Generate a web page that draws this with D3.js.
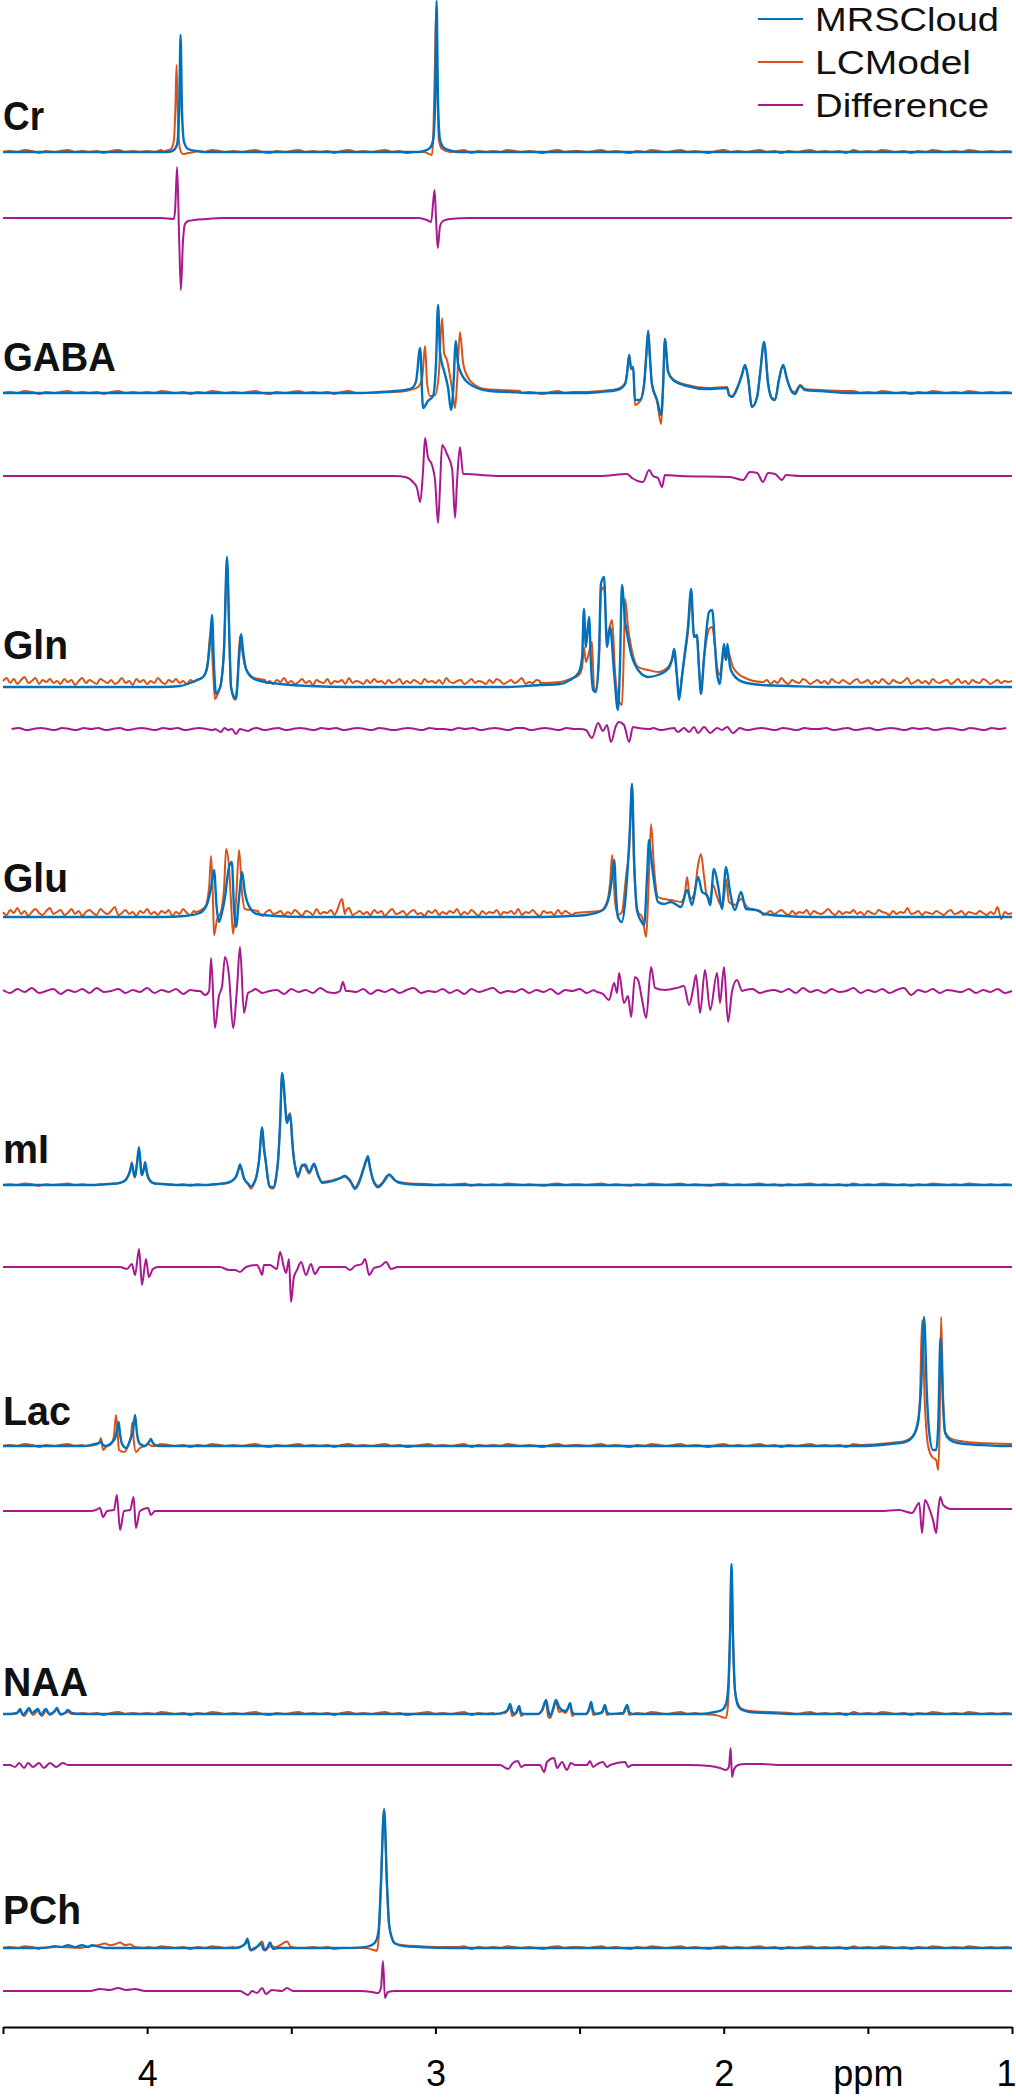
<!DOCTYPE html>
<html>
<head>
<meta charset="utf-8">
<script src="https://cdn.jsdelivr.net/npm/d3@7"></script>
<style>
  body { margin: 0; background: #fff; }
  svg { display: block; font-family: Helvetica, Arial, "Liberation Sans", sans-serif; }
</style>
</head>
<body>
<script>
// ---- data ----
const metabolites = ["Cr", "GABA", "Gln", "Glu", "mI", "Lac", "NAA", "PCh"];
const seriesNames = ["MRSCloud", "LCModel", "Difference"];
const tickPpm = [4.5, 4, 3.5, 3, 2.5, 2, 1.5, 1];
const tickText = ["", "4", "", "3", "", "2", "ppm", "1"];

// spectra: groups of [ppm, intensity (a.u.)] vertices, flat baseline between groups
const crMrs = [
  [[3.928,0],[3.907,2],[3.896,8],[3.889,40],[3.884,117],[3.879,40],[3.872,10],[3.858,3],[3.830,1],[3.800,0]],
  [[3.060,0],[3.040,1],[3.019,4],[3.008,12],[3.001,50],[2.996,151],[2.991,50],[2.984,12],[2.970,4],[2.942,1],[2.920,0]]
];
const crLcm = [
  [[3.945,0],[3.938,1],[3.917,3],[3.907,12],[3.902,45],[3.898,87],[3.893,30],[3.886,3],[3.876,-2],[3.858,-1],[3.837,0]],
  [[3.060,0],[3.040,0],[3.022,-2],[3.012,-3],[3.007,20],[3.001,100],[2.998,140],[2.993,60],[2.988,12],[2.977,3],[2.949,0]]
];
const crDiff = [
  [[3.950,0],[3.907,-1],[3.903,8],[3.896,51],[3.889,-20],[3.883,-72],[3.876,-25],[3.869,-6],[3.858,-3],[3.837,-2],[3.790,-1],[3.740,0]],
  [[3.060,0],[3.030,-2],[3.015,-4],[3.003,28],[2.998,0],[2.992,-30],[2.984,-8],[2.974,-3],[2.950,-1],[2.880,0]]
];

const gabaMrs = [
  [[3.260,0],[3.192,1],[3.140,2],[3.105,3],[3.081,5],[3.067,12],[3.053,45],[3.043,-15],[3.026,-8],[3.008,-3],[2.998,30],[2.991,88],[2.984,40],[2.970,22],[2.956,5],[2.946,-17],[2.939,0],[2.929,52],[2.922,30],[2.908,18],[2.890,11],[2.870,7],[2.856,5],[2.811,2],[2.741,1],[2.680,0]],
  [[2.480,0],[2.429,1],[2.370,3],[2.342,9],[2.335,20],[2.328,38],[2.321,24],[2.314,26],[2.308,-7],[2.290,-7],[2.276,9],[2.269,36],[2.262,62],[2.256,36],[2.249,9],[2.231,-7],[2.217,-22],[2.210,10],[2.204,54],[2.193,21],[2.176,13],[2.127,7],[2.058,4],[1.988,5],[1.982,-2],[1.971,-4],[1.954,4],[1.937,18],[1.926,28],[1.916,16],[1.902,-14],[1.884,-4],[1.874,19],[1.860,51],[1.846,9],[1.832,-6],[1.822,-7],[1.808,14],[1.794,28],[1.780,13],[1.763,1],[1.753,-1],[1.735,7],[1.718,3],[1.666,2],[1.562,0]]
];
const gabaLcm = [
  [[3.260,0],[3.140,1],[3.088,3],[3.060,6],[3.046,15],[3.036,47],[3.029,10],[3.019,-3],[3.001,-2],[2.988,20],[2.977,75],[2.970,40],[2.960,33],[2.950,18],[2.939,-2],[2.932,-15],[2.925,10],[2.915,61],[2.904,30],[2.890,17],[2.863,8],[2.828,4],[2.776,3],[2.707,2]],
  [[2.480,1],[2.429,2],[2.370,4],[2.342,10],[2.335,21],[2.328,38],[2.321,24],[2.314,26],[2.308,-12],[2.290,-8],[2.276,9],[2.269,36],[2.262,62],[2.256,36],[2.249,9],[2.231,-9],[2.217,-31],[2.210,8],[2.204,54],[2.193,22],[2.176,14],[2.127,8],[2.058,5],[1.988,6],[1.982,-1],[1.971,-3],[1.954,5],[1.937,18],[1.926,28],[1.916,16],[1.902,-14],[1.884,-3],[1.874,19],[1.860,50],[1.846,10],[1.832,-5],[1.822,-6],[1.808,14],[1.794,28],[1.780,14],[1.763,2],[1.753,1],[1.735,8],[1.718,4],[1.666,3],[1.562,2]]
];
const gabaDiff = [
  [[3.200,0],[3.140,0],[3.105,-1],[3.078,-6],[3.064,-12],[3.053,-26],[3.043,5],[3.036,38],[3.026,19],[3.012,11],[3.001,-5],[2.991,-47],[2.984,-10],[2.977,31],[2.960,22],[2.942,7],[2.932,-42],[2.925,-5],[2.915,29],[2.904,2],[2.890,2],[2.845,1],[2.776,0]],
  [[2.429,0],[2.335,2],[2.318,-2],[2.280,-6],[2.259,6],[2.245,0],[2.228,-2],[2.214,-11],[2.204,1],[2.152,0],[1.978,-1],[1.933,-4],[1.909,4],[1.884,3],[1.864,-6],[1.846,3],[1.822,2],[1.798,-4],[1.784,1],[1.735,0]]
];

const glnMrs = [
  [[3.950,0],[3.886,1],[3.834,6],[3.806,10],[3.792,20],[3.782,45],[3.775,72],[3.768,20],[3.761,-7],[3.751,-3],[3.744,3],[3.733,40],[3.723,130],[3.714,40],[3.709,0],[3.699,-10],[3.692,-12],[3.681,30],[3.674,53],[3.667,35],[3.657,18],[3.629,8],[3.591,5],[3.539,3],[3.435,1],[3.300,0]],
  [[2.750,0],[2.637,2],[2.568,3],[2.533,7],[2.502,15],[2.491,30],[2.485,78],[2.478,40],[2.467,70],[2.460,20],[2.453,-3],[2.443,-5],[2.432,40],[2.426,103],[2.415,110],[2.405,40],[2.394,60],[2.380,13],[2.367,-23],[2.360,20],[2.353,102],[2.342,65],[2.335,53],[2.321,33],[2.297,17],[2.262,10],[2.228,12],[2.193,18],[2.179,28],[2.172,38],[2.162,10],[2.155,-13],[2.145,10],[2.138,27],[2.124,60],[2.113,98],[2.103,50],[2.093,52],[2.086,20],[2.079,-7],[2.068,30],[2.061,53],[2.051,75],[2.040,77],[2.030,40],[2.023,13],[2.013,3],[2.006,25],[1.999,43],[1.992,27],[1.987,43],[1.978,20],[1.968,13],[1.933,5],[1.867,2],[1.770,1],[1.650,0]]
];
const glnLcm = [
  [[3.834,6],[3.806,10],[3.792,18],[3.780,55],[3.771,15],[3.765,-12],[3.751,-4],[3.744,3],[3.733,40],[3.723,125],[3.714,40],[3.709,0],[3.695,-13],[3.688,0],[3.678,51],[3.667,30],[3.657,18],[3.629,9],[3.591,7]],
  [[2.637,4],[2.568,5],[2.533,8],[2.502,12],[2.491,20],[2.485,40],[2.478,25],[2.467,35],[2.457,45],[2.450,0],[2.443,-3],[2.432,30],[2.426,95],[2.415,100],[2.405,50],[2.394,62],[2.387,67],[2.377,15],[2.367,-10],[2.353,-18],[2.347,30],[2.342,88],[2.332,60],[2.321,40],[2.297,20],[2.262,17],[2.228,15],[2.193,20],[2.179,28],[2.172,33],[2.162,10],[2.155,-8],[2.145,10],[2.138,25],[2.124,55],[2.113,90],[2.103,50],[2.093,50],[2.086,20],[2.079,-3],[2.068,30],[2.061,45],[2.051,58],[2.040,60],[2.030,40],[2.023,20],[2.013,12],[2.006,25],[1.999,35],[1.992,27],[1.985,35],[1.968,20],[1.933,10],[1.867,5]]
];
const glnDiff = [
  [[3.765,0],[3.744,-3],[3.732,1],[3.719,-1],[3.706,0],[3.692,-5],[3.678,0],[3.664,-1],[3.650,-2],[3.636,0]],
  [[2.498,0],[2.478,-1],[2.457,-9],[2.436,6],[2.419,-2],[2.405,4],[2.391,-13],[2.374,3],[2.363,7],[2.346,4],[2.328,-13],[2.315,2],[2.297,1],[2.256,0]],
  [[2.169,0],[2.158,-3],[2.138,1],[2.120,-3],[2.103,2],[2.089,-4],[2.068,2],[2.047,-4],[2.023,1],[2.006,-1],[1.988,2],[1.968,-4],[1.950,0]]
];

const gluMrs = [
  [[3.950,0],[3.869,1],[3.817,4],[3.792,13],[3.778,30],[3.768,47],[3.759,10],[3.751,-5],[3.740,5],[3.730,20],[3.716,50],[3.706,55],[3.699,10],[3.692,-10],[3.681,20],[3.671,45],[3.661,25],[3.650,13],[3.619,3],[3.556,1],[3.450,0]],
  [[2.650,0],[2.533,1],[2.478,2],[2.419,7],[2.398,20],[2.387,40],[2.380,57],[2.373,20],[2.367,0],[2.353,-5],[2.342,15],[2.335,40],[2.325,90],[2.318,133],[2.311,60],[2.301,7],[2.287,-4],[2.276,-8],[2.266,40],[2.259,77],[2.252,60],[2.245,43],[2.228,15],[2.207,13],[2.183,15],[2.148,10],[2.127,27],[2.110,12],[2.089,40],[2.075,25],[2.058,22],[2.047,12],[2.034,48],[2.020,32],[2.006,8],[1.992,50],[1.978,25],[1.961,7],[1.940,25],[1.923,8],[1.888,7],[1.857,3],[1.787,1],[1.700,0]]
];
const gluLcm = [
  [[3.834,5],[3.799,10],[3.785,30],[3.778,61],[3.771,10],[3.768,-18],[3.758,-3],[3.744,5],[3.733,30],[3.726,68],[3.716,50],[3.709,15],[3.702,-17],[3.692,15],[3.681,67],[3.671,25],[3.661,8],[3.643,7],[3.615,6]],
  [[3.345,4],[3.324,18],[3.314,3]],
  [[2.516,4],[2.429,6],[2.405,15],[2.394,35],[2.387,62],[2.377,15],[2.367,2],[2.353,5],[2.339,40],[2.328,68],[2.318,133],[2.311,50],[2.297,5],[2.283,0],[2.269,-20],[2.262,20],[2.252,93],[2.242,50],[2.228,20],[2.207,18],[2.183,17],[2.148,15],[2.134,25],[2.127,40],[2.117,18],[2.103,22],[2.089,52],[2.079,63],[2.068,40],[2.058,20],[2.047,18],[2.037,32],[2.023,20],[2.009,12],[1.999,20],[1.992,38],[1.982,15],[1.961,12],[1.940,18],[1.916,9],[1.874,6]]
];
const gluDiff = [
  [[3.817,0],[3.799,-4],[3.785,0],[3.778,33],[3.765,-37],[3.751,-5],[3.740,5],[3.730,34],[3.716,15],[3.702,-37],[3.688,4],[3.678,44],[3.664,-22],[3.650,-2],[3.636,0]],
  [[3.331,0],[3.321,9],[3.310,0]],
  [[2.446,0],[2.419,-3],[2.398,-9],[2.380,8],[2.370,-2],[2.363,18],[2.346,-12],[2.332,-5],[2.321,-26],[2.308,14],[2.297,11],[2.283,-9],[2.269,-27],[2.252,24],[2.238,3],[2.204,1],[2.162,3],[2.138,5],[2.120,-14],[2.106,2],[2.096,16],[2.082,-22],[2.065,21],[2.047,-19],[2.023,18],[2.013,-12],[1.999,24],[1.985,-31],[1.971,0],[1.954,11],[1.936,0]]
];

const miMrs = [
  [[4.180,0],[4.146,1],[4.105,2],[4.080,5],[4.070,9],[4.059,19],[4.053,28],[4.046,15],[4.042,11],[4.035,30],[4.028,50],[4.021,19],[4.018,13],[4.011,22],[4.007,30],[4.000,15],[3.990,6],[3.973,2],[3.938,1],[3.900,0]],
  [[3.800,0],[3.765,1],[3.720,3],[3.692,11],[3.683,21],[3.678,27],[3.671,19],[3.664,9],[3.650,2],[3.640,-2],[3.629,3],[3.622,10],[3.612,32],[3.601,76],[3.595,50],[3.588,30],[3.581,8],[3.574,-2],[3.560,-3],[3.553,10],[3.546,32],[3.539,80],[3.532,148],[3.525,125],[3.522,108],[3.515,82],[3.504,93],[3.497,60],[3.494,45],[3.484,20],[3.477,12],[3.463,25],[3.452,27],[3.438,17],[3.421,28],[3.407,13],[3.393,3],[3.359,5],[3.331,9],[3.314,12],[3.296,6],[3.279,-5],[3.262,6],[3.251,19],[3.241,32],[3.234,38],[3.227,23],[3.216,6],[3.199,-3],[3.182,3],[3.171,9],[3.161,14],[3.151,11],[3.140,6],[3.126,3],[3.088,1],[3.019,0]]
];
const miLcm = [
  [[4.180,0],[4.146,1],[4.105,2],[4.080,5],[4.070,9],[4.059,19],[4.053,30],[4.046,13],[4.042,10],[4.035,28],[4.028,46],[4.021,18],[4.018,14],[4.011,23],[4.007,28],[4.000,13],[3.990,5],[3.973,2],[3.938,1],[3.900,0]],
  [[3.800,0],[3.765,1],[3.720,3],[3.692,10],[3.683,20],[3.678,26],[3.671,18],[3.664,8],[3.650,1],[3.640,-5],[3.629,2],[3.622,9],[3.612,32],[3.601,76],[3.595,48],[3.588,28],[3.581,6],[3.574,-3],[3.564,-5],[3.553,8],[3.546,30],[3.539,78],[3.532,145],[3.525,128],[3.522,112],[3.515,88],[3.504,95],[3.497,62],[3.494,46],[3.484,18],[3.477,10],[3.463,27],[3.452,24],[3.438,15],[3.421,26],[3.407,12],[3.393,4],[3.359,6],[3.331,9],[3.314,11],[3.296,5],[3.279,-3],[3.262,8],[3.251,21],[3.241,30],[3.234,34],[3.227,23],[3.216,7],[3.199,-1],[3.182,4],[3.171,11],[3.161,13],[3.151,10],[3.140,6],[3.126,4],[3.088,2],[3.019,1]]
];
const miDiff = [
  [[4.094,0],[4.070,-2],[4.053,3],[4.042,-8],[4.028,18],[4.018,-18],[4.004,8],[3.994,-10],[3.980,-2],[3.962,0]],
  [[3.747,0],[3.716,-3],[3.695,-3],[3.678,-5],[3.657,0],[3.619,2],[3.609,-3],[3.601,-8],[3.595,2],[3.574,2],[3.550,-2],[3.539,15],[3.525,-1],[3.518,-6],[3.508,8],[3.501,-35],[3.491,-10],[3.480,-3],[3.466,5],[3.449,-8],[3.432,3],[3.418,-7],[3.400,0],[3.314,0],[3.296,-3],[3.279,1],[3.255,3],[3.244,8],[3.230,-8],[3.213,-1],[3.189,1],[3.171,5],[3.154,-2],[3.130,0]]
];

const lacMrs = [
  [[4.216,0],[4.181,2],[4.167,3],[4.160,4],[4.153,1],[4.143,0],[4.125,3],[4.111,8],[4.105,15],[4.099,24],[4.094,12],[4.087,2],[4.073,-2],[4.059,6],[4.049,15],[4.042,31],[4.035,12],[4.025,2],[4.007,0],[3.994,4],[3.987,7],[3.980,3],[3.962,0]],
  [[1.527,0],[1.423,2],[1.371,4],[1.343,10],[1.326,25],[1.315,60],[1.305,129],[1.295,50],[1.288,16],[1.274,-4],[1.263,-4],[1.256,20],[1.248,108],[1.239,40],[1.232,13],[1.215,6],[1.187,3],[1.111,1],[1.042,0]]
];
const lacLcm = [
  [[4.216,0],[4.181,1],[4.167,3],[4.160,8],[4.153,-4],[4.143,-1],[4.125,2],[4.115,10],[4.108,31],[4.101,8],[4.098,-4],[4.080,-6],[4.066,0],[4.056,10],[4.051,24],[4.046,5],[4.039,-6],[4.025,-2],[4.007,0],[3.997,2],[3.983,0]],
  [[1.527,1],[1.423,3],[1.371,5],[1.343,10],[1.326,22],[1.319,50],[1.312,126],[1.302,40],[1.291,0],[1.277,-11],[1.263,-14],[1.256,-24],[1.251,20],[1.246,129],[1.239,50],[1.232,14],[1.215,8],[1.180,5],[1.111,3],[1.000,2]]
];
const lacDiff = [
  [[4.198,0],[4.177,1],[4.164,3],[4.153,-6],[4.139,0],[4.115,1],[4.105,16],[4.094,-19],[4.080,0],[4.059,1],[4.047,14],[4.039,-17],[4.025,0],[3.997,3],[3.987,-4],[3.973,0]],
  [[1.458,0],[1.392,1],[1.347,-2],[1.322,8],[1.312,-22],[1.302,11],[1.284,0],[1.274,-9],[1.263,-22],[1.256,0],[1.249,14],[1.239,6],[1.211,2],[1.180,2],[1.000,2]]
];

const naaMrs = [
  [[4.476,0],[4.451,1],[4.441,5],[4.431,-1],[4.421,2],[4.410,6],[4.399,1],[4.389,3],[4.379,5],[4.368,-1],[4.358,3],[4.351,5],[4.340,0],[4.323,2],[4.313,6],[4.302,0],[4.285,1],[4.275,4],[4.261,1],[4.233,0]],
  [[2.793,0],[2.759,2],[2.748,5],[2.741,10],[2.734,3],[2.727,0],[2.717,3],[2.710,8],[2.703,1],[2.693,0],[2.644,0],[2.630,4],[2.616,14],[2.609,4],[2.602,-2],[2.592,5],[2.582,14],[2.571,7],[2.561,4],[2.550,3],[2.540,6],[2.533,11],[2.526,2],[2.516,0],[2.478,0],[2.467,5],[2.460,12],[2.453,3],[2.443,0],[2.422,2],[2.412,9],[2.405,2],[2.394,0],[2.349,1],[2.335,9],[2.328,2],[2.315,0]],
  [[2.082,0],[2.030,2],[2.006,4],[1.992,10],[1.985,24],[1.978,80],[1.973,150],[1.968,80],[1.961,24],[1.950,8],[1.936,4],[1.909,2],[1.839,1],[1.770,0]]
];
const naaLcm = [
  [[4.476,0],[4.451,1],[4.441,3],[4.427,-2],[4.410,4],[4.396,-1],[4.379,3],[4.365,-2],[4.351,3],[4.337,-1],[4.313,4],[4.299,-1],[4.275,2],[4.261,0]],
  [[2.793,0],[2.759,1],[2.748,4],[2.741,8],[2.734,-2],[2.727,-1],[2.717,2],[2.710,7],[2.703,-2],[2.693,0],[2.644,0],[2.630,3],[2.616,12],[2.609,-3],[2.602,-4],[2.592,4],[2.582,12],[2.571,2],[2.561,3],[2.550,1],[2.540,5],[2.533,10],[2.526,-2],[2.516,0],[2.478,0],[2.467,4],[2.460,11],[2.453,-1],[2.443,0],[2.422,1],[2.412,8],[2.405,-1],[2.394,0],[2.349,0],[2.335,8],[2.328,-1],[2.315,0]],
  [[2.082,0],[2.030,-1],[2.006,-3],[1.992,-4],[1.985,10],[1.978,80],[1.973,148],[1.968,80],[1.961,24],[1.950,10],[1.936,5],[1.909,3],[1.839,2],[1.770,1]]
];
const naaDiff = [
  [[4.476,0],[4.458,-2],[4.444,2],[4.427,-3],[4.413,2],[4.396,-2],[4.375,2],[4.358,-3],[4.337,2],[4.316,-2],[4.292,2],[4.275,0],[4.257,0]],
  [[2.776,0],[2.748,-4],[2.731,2],[2.714,4],[2.703,-2],[2.689,0],[2.637,0],[2.623,-7],[2.613,3],[2.589,7],[2.578,-3],[2.561,3],[2.544,-5],[2.530,2],[2.516,0],[2.474,0],[2.464,4],[2.453,-2],[2.443,0],[2.419,3],[2.405,-2],[2.394,0],[2.342,3],[2.332,-2],[2.318,0]],
  [[2.117,0],[2.048,-1],[2.013,-3],[1.992,-5],[1.982,-2],[1.976,17],[1.971,-12],[1.964,-4],[1.950,0],[1.926,1],[1.874,1],[1.800,0]]
];

const pchMrs = [
  [[4.372,0],[4.337,1],[4.320,2],[4.295,1],[4.275,3],[4.250,1],[4.226,3],[4.205,1],[4.191,3],[4.174,2],[4.146,0]],
  [[3.695,0],[3.671,2],[3.660,5],[3.652,10],[3.643,-2],[3.626,0],[3.612,3],[3.605,5],[3.595,-2],[3.584,0],[3.574,6],[3.563,-1],[3.546,0]],
  [[3.331,0],[3.244,1],[3.216,4],[3.203,10],[3.196,23],[3.189,70],[3.178,151],[3.168,70],[3.161,27],[3.150,10],[3.140,5],[3.109,2],[3.053,1],[2.949,0]]
];
const pchLcm = [
  [[4.372,0],[4.302,1],[4.233,0],[4.198,2],[4.170,3],[4.146,5],[4.129,3],[4.111,4],[4.094,6],[4.077,3],[4.059,4],[4.042,1],[4.007,0]],
  [[3.695,0],[3.664,3],[3.650,7],[3.640,-3],[3.622,0],[3.601,7],[3.591,-3],[3.574,2],[3.553,1],[3.539,3],[3.515,7],[3.501,1],[3.470,0]],
  [[3.331,0],[3.244,0],[3.216,-2],[3.203,-3],[3.196,15],[3.189,70],[3.178,151],[3.168,65],[3.161,25],[3.150,10],[3.140,5],[3.109,3],[3.053,2],[2.949,1]]
];
const pchDiff = [
  [[4.198,0],[4.164,2],[4.129,1],[4.101,3],[4.073,1],[4.042,2],[4.007,0]],
  [[3.678,0],[3.650,-4],[3.636,0],[3.619,-2],[3.601,3],[3.588,-3],[3.567,1],[3.532,0],[3.515,3],[3.494,0]],
  [[3.262,0],[3.220,-1],[3.199,-2],[3.189,3],[3.182,30],[3.175,-7],[3.165,-1],[3.140,0]]
];

// baseline noise read as texture, on a regular ppm grid
const glnLcmNoise = [
  6,9,4,8,3,7,10,4,6,9,3,7,5,8,4,6,3,8,5,7,
  2,6,9,4,7,5,3,8,6,4,7,3,5,9,4,6,2,8,5,7,
  3,6,4,9,5,3,7,5,8,4,6,3,7,5,2,8,4,6,9,3,
  5,7,4,6,3,8,5,4,7,2,6,5,8,4,6,3,7,5,9,4,
  6,3,5,8,4,6,2,7,5,4,8,3,6,5,7,3,9,4,6,5,
  3,7,4,8,5,6,3,7,4,5,8,3,6,4,7,5,3,8,5,6,
  4,7,3,9,5,4,6,7,3,5,8,4,6,5,3,7,4,8,6,3,
  5,7,4,6,9,3,5,4,7,6,3,8,5,4,6,7,3,5,8,4,
  6,3,7,5,4,8,6,3,5,7,4,6,8,3,5,6,4,7,5,3,
  8,4,6,5,7,3,6,4,8,5,3,7,4,6,9,3,5,7,4,6,
  3,8,5,6,4,7,3,5,8,4,6,5,7,3,6,4,9,5,3,7,
  5,4,8,6,3,5,7,4,6,3,8,5,4,7,5,3,6,8,4,5,
  7,3,6,4,8,5,3,7,5,4,6,9,3,5,7,4,6,3,8,5,
  4,6,7,3,5,8,4,6,3,7,5,4,8,6,3,5,7,4,6,5,
  6
];
const gluLcmNoise = [
  5,2,7,4,9,3,6,1,5,8,4,2,6,9,3,5,7,2,4,8,
  3,6,1,5,7,4,2,8,5,3,6,10,2,4,7,3,5,1,6,4,
  8,3,5,2,6,4,7,1,5,3,8,4,2,6,5,3,7,4,1,5,
  6,3,8,2,4,7,5,2,6,3,9,4,1,5,7,3,4,6,2,5,
  3,7,4,1,6,5,2,8,3,5,4,7,2,6,3,5,9,2,4,6,
  3,5,2,7,4,6,1,5,8,3,4,6,2,5,7,3,4,1,6,4,
  7,2,5,3,6,4,8,2,5,3,7,4,1,6,3,5,4,7,2,5,
  4,6,3,8,2,5,4,7,3,1,6,4,5,2,7,3,6,4,2,5,
  3,7,4,2,6,5,3,8,4,1,5,6,3,4,7,2,5,3,6,4,
  5,2,6,4,7,3,5,1,4,6,3,8,5,2,4,6,3,7,4,2,
  6,4,3,7,5,2,4,6,3,5,8,2,4,6,3,5,7,4,2,6,
  3,5,4,7,2,6,4,3,5,8,4,2,6,3,5,4,7,3,5,2,
  6,4,3,7,5,4,2,6,3,5,4,9,3,4,6,2,5,4,3,6,
  4,2,5,7,3,4,6,2,5,4,3,6,4,2,5,3,10,-2,5,3,
  4
];
const gluDiffNoise = [
  1,-2,2,-1,3,-2,0,2,-3,1,-1,2,-2,3,-1,0,2,-2,1,-1,
  3,-2,1,-1,2,-3,1,0,-2,2,-1,3,-2,1,-1,2,-2,0,1,-3,
  2,-1,1,-2,3,-1,-2,2,0,-1,2,-3,1,-1,2,-2,1,3,-2,0,
  -1,2,-2,1,-3,2,-1,1,3,-2,0,-1,2,-2,1,-1,2,-3,1,0,
  2,-2,1,-1,3,-2,1,-1,2,0,-2,1,-3,2,-1,1,3,-2,1,-1,
  2,-1,-3,1,2,-2,0,1,-1,2,-2,3,-1,1,-2,2,-1,0,3,-2,
  1,-1,2,-2,1,3,-4,1,-1,2,-2,1,0,-1,2,-2,1,-1,2,-2,
  0
];
const glnDiffNoise = [
  0,1,-1,0,1,0,-1,1,0,-1,1,0,1,-1,0,1,-1,0,1,0,
  -1,1,0,1,-1,0,1,0,-1,1,0,-1,1,0,1,-1,0,1,-1,0,
  1,0,-1,1,0,1,-1,0,1,0,-1,1,0,-1,0,1,0,-1,1,0,
  0,-1,1,0,1,-1,0,1,0,-1,1,1,-1,0,1,0,-1,1,0,-1,
  1,0,-1,1,0,0,1,-1,0,1,-1,0,1,0,-1,1,0,1,-1,0,
  0,1,-1,0,1,0,-1,1,0,-1,1,0,0,1,-1,0,1,-1,0,1,
  -1,0,1,0,-1,1,0,1,-1,0,1,0,-1,1,0,-1,1,0,1,0,
  0
];
const lcmFuzz = [
  0,1,0,2,1,-1,1,0,1,2,0,1,0,1,-1,1,2,0,1,0,
  1,0,2,1,0,1,-1,1,0,2,1,0,1,0,1,2,0,-1,1,0,
  1,2,0,1,0,1,-1,1,2,0,1,0,1,2,0,1,-1,0,1,2,
  0,1,0,1,2,-1,1,0,1,0,2,1,0,1,0,-1,1,2,0,1,
  1,0,1,2,0,1,0,-1,1,0,2,1,0,1,2,0,1,0,-1,1,
  2,0,1,0,1,2,0,1,-1,1,0,1,2,0,1,0,1,-1,2,0,
  1,0,2,1,0,1,-1,1,0,2,1,0,1,0,2,1,0,1,0,1,
  0
];

// ---- layout ----
const W = 1016, H = 2100;
// base / diff: pixel rows of the two zero lines; k: px per a.u. for the spectrum
const panelY = [
  { base: 152,  diff: 218,  label: 130,  k: 1 },
  { base: 393,  diff: 476,  label: 371,  k: 1 },
  { base: 687,  diff: 729,  label: 659,  k: 1 },
  { base: 917,  diff: 991,  label: 892,  k: 1 },
  { base: 1185, diff: 1267, label: 1163, k: 0.757 },
  { base: 1446, diff: 1511, label: 1425, k: 1 },
  { base: 1714, diff: 1765, label: 1696, k: 1 },
  { base: 1948, diff: 1991, label: 1924, k: 0.92 }
];
const labelWidth = [41, 113, 65, 65, 46, 68, 85, 78];
const axisY = 2027;
const colors = { mrs: "#0072BD", lcm: "#D95319", diff: "#A8198F" };

const fine = (v, start) => ({ values: v, start: start, step: 0.0125 });
const coarse = (v, start) => ({ values: v, start: start, step: 0.025 });

const panels = [
  { mrs: crMrs,   lcm: crLcm,   diff: crDiff,   lcmNoise: coarse(lcmFuzz, 4.5) },
  { mrs: gabaMrs, lcm: gabaLcm, diff: gabaDiff, lcmNoise: coarse(lcmFuzz, 4.5) },
  { mrs: glnMrs,  lcm: glnLcm,  diff: glnDiff,  lcmNoise: fine(glnLcmNoise, 4.5), diffNoise: coarse(glnDiffNoise, 4.47) },
  { mrs: gluMrs,  lcm: gluLcm,  diff: gluDiff,  lcmNoise: fine(gluLcmNoise, 4.5), diffNoise: coarse(gluDiffNoise, 4.5) },
  { mrs: miMrs,   lcm: miLcm,   diff: miDiff,   lcmNoise: coarse(lcmFuzz, 4.5) },
  { mrs: lacMrs,  lcm: lacLcm,  diff: lacDiff,  lcmNoise: coarse(lcmFuzz, 4.5) },
  { mrs: naaMrs,  lcm: naaLcm,  diff: naaDiff,  lcmNoise: coarse(lcmFuzz, 4.5) },
  { mrs: pchMrs,  lcm: pchLcm,  diff: pchDiff,  lcmNoise: coarse(lcmFuzz, 4.5) }
];

// merge peak groups with the baseline (noise grid or flat ends)
function buildTrace(groups, noise) {
  const ranges = groups.map(g => d3.extent(g, d => d[0]));
  const inside = p => ranges.some(r => p >= r[0] - 1e-9 && p <= r[1] + 1e-9);
  let pts = [];
  if (noise) {
    noise.values.forEach((v, i) => {
      const p = noise.start - i * noise.step;
      if (p >= 0.9999 && !inside(p)) pts.push([p, v]);
    });
  } else {
    [4.5, 1.0].forEach(p => { if (!inside(p)) pts.push([p, 0]); });
  }
  groups.forEach(g => { pts = pts.concat(g); });
  pts.sort((a, b) => b[0] - a[0]);
  return pts;
}

const svg = d3.select("body").append("svg")
  .attr("width", W)
  .attr("height", H);

const x = d3.scaleLinear().domain([4.5, 1.0]).range([3, 1012]);

panels.forEach((p, i) => {
  const L = panelY[i];
  const ySpec = d3.scaleLinear().domain([0, 100]).range([L.base, L.base - 100 * L.k]);
  const yDiff = d3.scaleLinear().domain([0, 100]).range([L.diff, L.diff - 100]);
  const lineSpec = d3.line().x(d => x(d[0])).y(d => ySpec(d[1])).curve(d3.curveMonotoneX);
  const lineDiff = d3.line().x(d => x(d[0])).y(d => yDiff(d[1])).curve(d3.curveMonotoneX);

  const g = svg.append("g").attr("class", "panel");

  g.append("path")
    .attr("d", lineDiff(buildTrace(p.diff, p.diffNoise)))
    .attr("fill", "none")
    .attr("stroke", colors.diff)
    .attr("stroke-width", 2)
    .attr("stroke-linejoin", "round");

  g.append("path")
    .attr("d", lineSpec(buildTrace(p.lcm, p.lcmNoise)))
    .attr("fill", "none")
    .attr("stroke", colors.lcm)
    .attr("stroke-width", 2)
    .attr("stroke-linejoin", "round");

  g.append("path")
    .attr("d", lineSpec(buildTrace(p.mrs, null)))
    .attr("fill", "none")
    .attr("stroke", colors.mrs)
    .attr("stroke-width", 2.4)
    .attr("stroke-linejoin", "round");

  g.append("text")
    .attr("x", 3)
    .attr("y", L.label)
    .attr("font-size", 40)
    .attr("font-weight", 700)
    .attr("fill", "#111")
    .attr("textLength", labelWidth[i])
    .attr("lengthAdjust", "spacingAndGlyphs")
    .text(metabolites[i]);
});

// x axis
const axis = svg.append("g")
  .attr("transform", `translate(0,${axisY})`)
  .call(d3.axisBottom(x)
    .tickValues(tickPpm)
    .tickSize(7)
    .tickSizeOuter(0)
    .tickFormat((d, i) => tickText[i]));

axis.select(".domain").attr("stroke", "#000").attr("stroke-width", 2);
axis.selectAll(".tick line").attr("stroke", "#000").attr("stroke-width", 2);
axis.selectAll(".tick text")
  .attr("y", 59)
  .attr("dy", 0)
  .attr("font-size", 36)
  .attr("font-family", "Helvetica, Arial, 'Liberation Sans', sans-serif")
  .attr("fill", "#000")
  .attr("text-anchor", d => d === 1 ? "end" : "middle")
  .attr("x", d => d === 1 ? 1016 - x(1) : 0);

// legend
const legendRows = [colors.mrs, colors.lcm, colors.diff];
const legendY = [19, 62, 105];
const legendWidth = [184, 156, 174];
const legend = svg.append("g").attr("class", "legend");
seriesNames.forEach((name, i) => {
  legend.append("line")
    .attr("x1", 758).attr("x2", 803)
    .attr("y1", legendY[i]).attr("y2", legendY[i])
    .attr("stroke", legendRows[i])
    .attr("stroke-width", 2.2);
  legend.append("text")
    .attr("x", 815)
    .attr("y", legendY[i] + 12)
    .attr("font-size", 34)
    .attr("fill", "#111")
    .attr("textLength", legendWidth[i])
    .attr("lengthAdjust", "spacingAndGlyphs")
    .text(name);
});
</script>
</body>
</html>
